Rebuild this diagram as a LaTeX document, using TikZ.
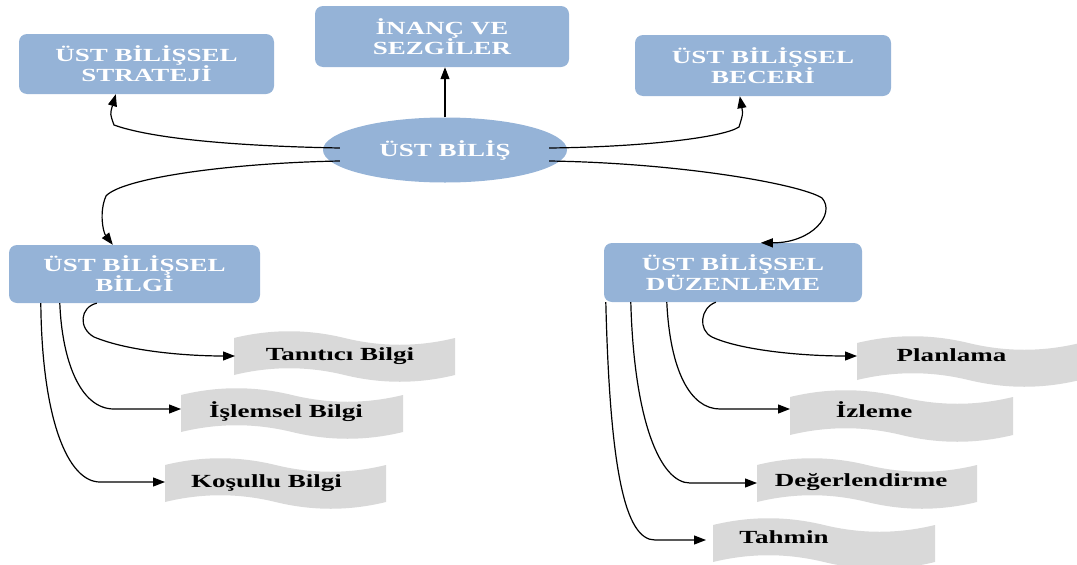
\documentclass[tikz,border=0pt]{standalone}
\usepackage{fontspec}
\usetikzlibrary{arrows.meta,shapes.geometric}
\newfontfamily\widefont{Liberation Serif}[FakeStretch=1.46]

\definecolor{boxblue}{RGB}{149,179,215}
\definecolor{bannergray}{RGB}{217,217,217}

% wavy flag shape: left x, top y, bottom y, width (y grows downwards)
\newcommand\wavebanner[4]{%
  \fill[bannergray] (#1,#2)
    .. controls ({#1+#4/6},{#2-9}) and ({#1+#4/3},{#2-9}) .. ({#1+#4/2},#2)
    .. controls ({#1+2*#4/3},{#2+9}) and ({#1+5*#4/6},{#2+9}) .. ({#1+#4},#2)
    -- ({#1+#4},#3)
    .. controls ({#1+5*#4/6},{#3+9}) and ({#1+2*#4/3},{#3+9}) .. ({#1+#4/2},#3)
    .. controls ({#1+#4/3},{#3-9}) and ({#1+#4/6},{#3-9}) .. (#1,#3)
    -- cycle;}

\tikzset{
  bluebox/.style={rectangle, rounded corners=8pt, fill=boxblue, text=white,
    font=\widefont\bfseries\fontsize{18.5}{20}\selectfont, align=center,
    inner sep=0pt},
  bluelipse/.style={ellipse, fill=boxblue, text=white,
    font=\widefont\bfseries\fontsize{18.5}{20}\selectfont, inner sep=0pt},
  itemtext/.style={anchor=base, text=black, inner sep=0pt,
    font=\widefont\bfseries\fontsize{18.5}{20}\selectfont},
  link/.style={draw=black, line width=1.2pt,
    -{Triangle[length=12pt,width=9pt]}}
}

\begin{document}
\begin{tikzpicture}[x=1pt,y=-1pt]
\useasboundingbox (0,0) rectangle (1077,565);

% main concept and the five headings
\node[bluelipse, minimum width=244pt, minimum height=65pt] (bilis) at (445,150) {ÜST BİLİŞ};
\node[bluebox, minimum width=255pt, minimum height=60pt] (strat) at (146.5,64) {ÜST BİLİŞSEL\\STRATEJİ};
\node[bluebox, minimum width=254pt, minimum height=61pt] (inanc) at (442,36.5) {İNANÇ VE\\SEZGİLER};
\node[bluebox, minimum width=256pt, minimum height=61pt] (beceri) at (763,65.5) {ÜST BİLİŞSEL\\BECERİ};
\node[bluebox, minimum width=251pt, minimum height=58pt] (bilgi) at (134.5,274) {ÜST BİLİŞSEL\\BİLGİ};
\node[bluebox, minimum width=258pt, minimum height=59pt] (duzen) at (733,272.5) {ÜST BİLİŞSEL\\DÜZENLEME};

% wavy item banners
\wavebanner{234}{338}{375}{221}
\wavebanner{181}{395}{432}{222}
\wavebanner{165}{465}{502}{221}
\wavebanner{857}{343}{380}{223}
\wavebanner{790}{397}{435}{223}
\wavebanner{757}{465}{502}{220}
\wavebanner{713}{525}{562}{222}

\coordinate (tanL) at (235,356);
\coordinate (islL) at (181,409);
\coordinate (kosL) at (165,482);
\coordinate (plaL) at (857,356);
\coordinate (izlL) at (790,409);
\coordinate (degL) at (757,483);
\coordinate (tahL) at (706,540);

\node[itemtext] (tan) at (340,360) {Tanıtıcı Bilgi};
\node[itemtext] (isl) at (286,417) {İşlemsel Bilgi};
\node[itemtext] (kos) at (266.5,487) {Koşullu Bilgi};
\node[itemtext] (pla) at (951.5,361) {Planlama};
\node[itemtext] (izl) at (874,417) {İzleme};
\node[itemtext] (deg) at (861,486) {Değerlendirme};
\node[itemtext] (tah) at (784,543) {Tahmin};

% connectors from the centre
\draw[link] (bilis.north) -- (bilis.north |- inanc.south);
\draw[link] ([shift={(17,-2)}]bilis.west)
  .. controls (230,146) and (150,138) .. (114,125)
  .. controls (110,114) .. ([xshift=97pt]strat.south west);
\draw[link] ([shift={(-18,-2)}]bilis.east)
  .. controls (640,147) and (722,138) .. (739,127)
  .. controls (743,114) .. ([xshift=105pt]beceri.south west);
\draw[link] ([shift={(17,11)}]bilis.west)
  .. controls (230,163) and (122,178) .. (106,196)
  .. controls (99,212) and (103,232) .. ([xshift=104pt]bilgi.north west);
\draw[link] ([shift={(-18,11)}]bilis.east)
  .. controls (680,163) and (800,184) .. (822,198)
  .. controls (836,214) and (812,243) .. ([xshift=157pt]duzen.north west);

% knowledge branches
\draw[link] ([xshift=88pt]bilgi.south west)
  .. controls (80,307) and (78,328) .. (94,337)
  .. controls (130,352) and (190,356) .. (tanL);
\draw[link] ([xshift=51pt]bilgi.south west)
  .. controls (62,360) and (80,409) .. (114,409) -- (islL);
\draw[link] ([xshift=32pt]bilgi.south west)
  .. controls (42,420) and (68,482) .. (100,482) -- (kosL);

% regulation branches
\draw[link] ([xshift=112pt]duzen.south west)
  .. controls (700,308) and (698,330) .. (712,337)
  .. controls (740,350) and (800,356) .. (plaL);
\draw[link] ([xshift=63pt]duzen.south west)
  .. controls (670,370) and (690,409) .. (720,409) -- (izlL);
\draw[link] ([xshift=27pt]duzen.south west)
  .. controls (634,420) and (660,483) .. (690,483) -- (degL);
\draw[link] ([xshift=2pt]duzen.south west)
  .. controls (610,470) and (625,540) .. (655,540) -- (tahL);
\end{tikzpicture}
\end{document}
